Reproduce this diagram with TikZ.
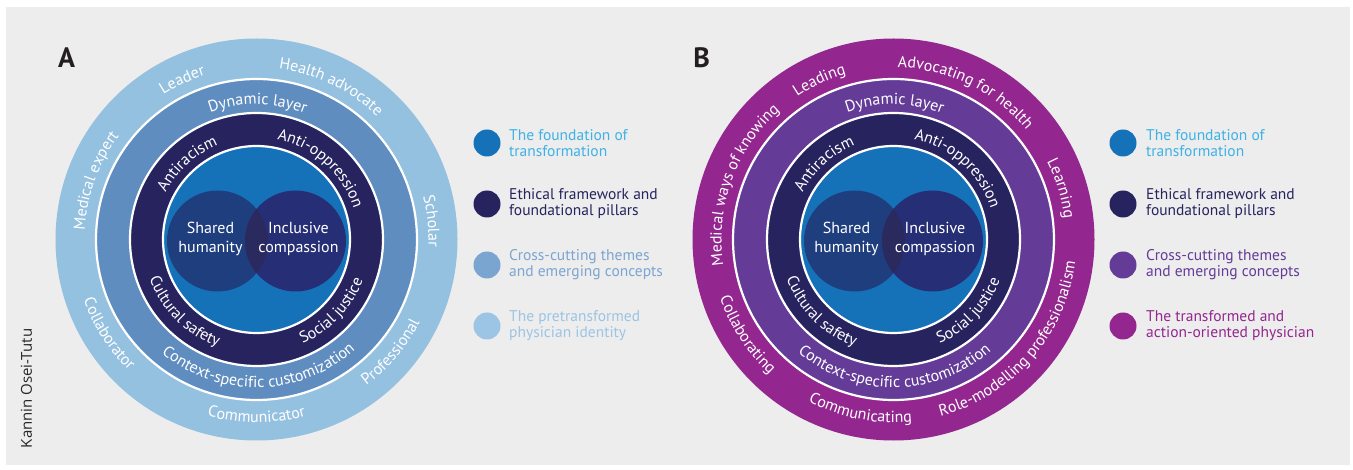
\documentclass[tikz,border=0pt]{standalone}
\usepackage{fontspec}
\setmainfont{PT Sans}
\newfontfamily\creditfont{Open Sans}
\usetikzlibrary{decorations.text,calc}

\definecolor{bgGrey}{HTML}{EDEDED}
\definecolor{outerA}{HTML}{95C1E1}
\definecolor{midA}{HTML}{5F8DC0}
\definecolor{outerB}{HTML}{93278F}
\definecolor{midB}{HTML}{643C98}
\definecolor{navy}{HTML}{27235F}
\definecolor{coreBlue}{HTML}{1572B9}
\definecolor{vennLeft}{HTML}{1F3E7E}
\definecolor{vennRight}{HTML}{262F76}
\definecolor{vennBoth}{HTML}{2B2A5F}
\definecolor{legCyan}{HTML}{3EB1E6}
\definecolor{legMidA}{HTML}{7BA5D1}
\definecolor{legOuterA}{HTML}{9CC4E4}
\definecolor{panelLetter}{HTML}{231F20}

\newcommand\ringfont{\fontsize{16}{18}\selectfont}

% text along an arc that reads clockwise over the top of a ring
\newcommand\ringtextcw[4]{%
  \path[shift={(#1)},decorate,decoration={text along path,text align=center,
      text color=white,text={|\ringfont|#4}}]
    (#3+70:#2) arc[start angle=#3+70,end angle=#3-70,radius=#2];}
% text along an arc that reads counter-clockwise under the bottom of a ring
\newcommand\ringtextccw[4]{%
  \path[shift={(#1)},decorate,decoration={text along path,text align=center,
      text color=white,text={|\ringfont|#4}}]
    (#3-70:#2) arc[start angle=#3-70,end angle=#3+70,radius=#2];}

% concentric rings with the shared-humanity Venn core
\newcommand\drawrings[3]{%
  \fill[#2] (#1) circle[radius=201];
  \fill[#3] (#1) circle[radius=160.5];
  \draw[sepline] (#1) circle[radius=160.5];
  \fill[navy] (#1) circle[radius=126.5];
  \draw[sepline] (#1) circle[radius=126.5];
  \fill[coreBlue] (#1) circle[radius=93.5];
  \draw[sepline] (#1) circle[radius=93.5];
  \fill[vennLeft] ($(#1)+(-39,-1.5)$) circle[radius=50.5];
  \fill[vennRight] ($(#1)+(39,-1.5)$) circle[radius=50.5];
  \begin{scope}
    \clip ($(#1)+(-39,-1.5)$) circle[radius=50.5];
    \fill[vennBoth] ($(#1)+(39,-1.5)$) circle[radius=50.5];
  \end{scope}}

\tikzset{
  sepline/.style={draw=white,line width=2.2pt},
  venntext/.style={text=white,align=center,inner sep=0pt,
    font=\fontsize{16}{19.3}\selectfont},
  legdot/.style={circle,minimum size=27pt,inner sep=0pt},
  legtext/.style={anchor=west,align=left,inner sep=0pt,
    font=\fontsize{15.5}{16}\selectfont},
  panelmark/.style={text=panelLetter,inner sep=0pt,
    font=\fontsize{28}{28}\selectfont\bfseries},
}

\begin{document}
\begin{tikzpicture}[x=1pt,y=1pt]
\fill[white] (0,0) rectangle (1353,469);
\useasboundingbox (0,0) rectangle (1353,469);
\fill[bgGrey] (6,4) rectangle (1350,462);

\coordinate (cA) at (256.5,229.5);
\coordinate (cB) at (893.5,229.5);

% ---------- panel A ----------
\node[panelmark] (markA) at (66.7,411) {A};
\drawrings{cA}{outerA}{midA}
\node[venntext] (sharedA) at ($(cA)+(-46,0.8)$) {Shared\\humanity};
\node[venntext] (inclA) at ($(cA)+(42,0.8)$) {Inclusive\\compassion};

\ringtextcw{cA}{172}{115}{Leader}
\ringtextcw{cA}{172}{64}{Health advocate}
\ringtextcw{cA}{172}{6}{Scholar}
\ringtextcw{cA}{172}{160}{Medical expert}
\ringtextccw{cA}{183}{320}{Professional}
\ringtextccw{cA}{183}{270}{Communicator}
\ringtextccw{cA}{183}{212.5}{Collaborator}

\ringtextcw{cA}{135}{89.5}{Dynamic layer}
\ringtextccw{cA}{148}{271}{Context-specific customization}

\ringtextcw{cA}{102}{132.5}{Antiracism}
\ringtextcw{cA}{102}{48}{Anti-oppression}
\ringtextccw{cA}{114}{225}{Cultural safety}
\ringtextccw{cA}{114}{316.5}{Social justice}

% legend A
\node[legdot,fill=coreBlue] (dA1) at (487,326) {};
\node[legdot,fill=navy] (dA2) at (487,265) {};
\node[legdot,fill=legMidA] (dA3) at (487,204) {};
\node[legdot,fill=legOuterA] (dA4) at (487,143) {};
\node[legtext,text=legCyan] (tA1) at (509,326) {The foundation of\\transformation};
\node[legtext,text=navy] (tA2) at (509,265) {Ethical framework and\\foundational pillars};
\node[legtext,text=legMidA] (tA3) at (509,204) {Cross-cutting themes\\and emerging concepts};
\node[legtext,text=legOuterA] (tA4) at (509,143) {The pretransformed\\physician identity};

% ---------- panel B ----------
\node[panelmark] (markB) at (701.7,411) {B};
\drawrings{cB}{outerB}{midB}
\node[venntext] (sharedB) at ($(cB)+(-47,0.8)$) {Shared\\humanity};
\node[venntext] (inclB) at ($(cB)+(41.5,0.8)$) {Inclusive\\compassion};

\ringtextcw{cB}{172}{115}{Leading}
\ringtextcw{cB}{172}{64}{Advocating for health}
\ringtextcw{cB}{172}{17}{Learning}
\ringtextcw{cB}{172}{160}{Medical ways of knowing}
\ringtextccw{cB}{183}{319}{Role-modelling professionalism}
\ringtextccw{cB}{183}{259}{Communicating}
\ringtextccw{cB}{183}{213}{Collaborating}

\ringtextcw{cB}{135}{89.5}{Dynamic layer}
\ringtextccw{cB}{148}{270.5}{Context-specific customization}

\ringtextcw{cB}{102}{132.5}{Antiracism}
\ringtextcw{cB}{102}{48}{Anti-oppression}
\ringtextccw{cB}{114}{225}{Cultural safety}
\ringtextccw{cB}{114}{316.5}{Social justice}

% legend B
\node[legdot,fill=coreBlue] (dB1) at (1123,326) {};
\node[legdot,fill=navy] (dB2) at (1123,265) {};
\node[legdot,fill=midB] (dB3) at (1123,204) {};
\node[legdot,fill=outerB] (dB4) at (1123,143) {};
\node[legtext,text=legCyan] (tB1) at (1146,326) {The foundation of\\transformation};
\node[legtext,text=navy] (tB2) at (1146,265) {Ethical framework and\\foundational pillars};
\node[legtext,text=midB] (tB3) at (1146,204) {Cross-cutting themes\\and emerging concepts};
\node[legtext,text=outerB] (tB4) at (1146,143) {The transformed and\\action-oriented physician};

% credit line
\node[rotate=90,inner sep=0pt,text=black!85,font=\creditfont\fontsize{15}{15}\selectfont]
  (credit) at (26.5,80.5) {Kannin Osei-Tutu};
\end{tikzpicture}
\end{document}
